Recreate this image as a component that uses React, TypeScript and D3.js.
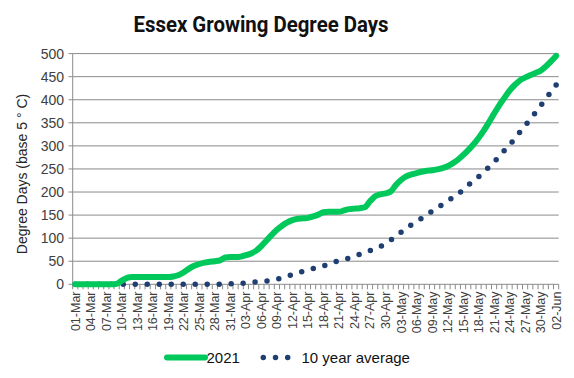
import React from "react";
import * as d3 from "d3";

const startDate = new Date(2021, 2, 1);
const dayCount = 94;
const months = ["Jan","Feb","Mar","Apr","May","Jun","Jul","Aug","Sep","Oct","Nov","Dec"];
const categories: string[] = Array.from({ length: dayCount }, (_, i) => {
  const d = new Date(startDate.getFullYear(), startDate.getMonth(), startDate.getDate() + i);
  return String(d.getDate()).padStart(2, "0") + "-" + months[d.getMonth()];
});

const gdd2021: number[] = [
  0, 0, 0, 0, 0, 0, 0, 0, 1, 8,
  14, 16, 16, 16, 16, 16, 16, 16, 16, 17,
  20, 26, 34, 40, 44, 47, 49, 50, 52, 58,
  59, 59, 60, 63, 67, 73, 83, 95, 107, 118,
  127, 134, 139, 142, 143, 144, 147, 151, 156, 157,
  157, 157, 160, 163, 164, 165, 167, 180, 191, 195,
  197, 201, 215, 226, 234, 238, 241, 244, 246, 247,
  249, 252, 256, 262, 270, 280, 291, 303, 317, 333,
  351, 370, 388, 404, 420, 432, 442, 448, 453, 458,
  463, 472, 483, 495,
];

const gddAvg: number[] = [
  0, 0, 0, 0, 0, 0, 0, 0, 0, 0,
  0, 0, 0, 0, 0, 0, 0, 0, 0, 0,
  0, 0, 0, 0, 0, 0, 0, 0, 0, 0,
  1, 1, 2, 3, 4, 5, 6, 7, 9, 11,
  14, 17, 21, 24, 28, 31, 34, 37, 40, 44,
  48, 51, 54, 57, 61, 65, 70, 73, 77, 82,
  88, 96, 104, 113, 122, 129, 136, 143, 151, 158,
  165, 173, 180, 188, 195, 205, 215, 224, 233, 243,
  254, 265, 277, 290, 302, 316, 330, 344, 358, 372,
  387, 402, 417, 432,
];

const yTicks = [0, 50, 100, 150, 200, 250, 300, 350, 400, 450, 500];
const seriesNames = ["2021", "10 year average"];
const title = "Essex Growing Degree Days";
const yTitle = "Degree Days (base 5 \u00B0 C)";

const W = 574, H = 378;
const GREEN = "#00c85a";
const NAVY = "#1f3e72";
const GRID = "#8a8a8a";
const FONT = "'Liberation Sans', Arial, sans-serif";

export default function App() {
  const x = d3.scaleBand<number>().domain(d3.range(dayCount)).range([72.7, 558.7]).padding(0);
  const bw = x.bandwidth();
  const cx = (i: number) => (x(i) as number) + bw / 2;
  const y = d3.scaleLinear().domain([0, 500]).range([284.3, 53.6]);

  const line = d3.line<number>().x((_, i) => cx(i)).y((d) => y(d)).curve(d3.curveMonotoneX);

  // approximate length of the average path so the round dots land on both ends
  let len = 0;
  for (let i = 1; i < gddAvg.length; i++) {
    len += Math.hypot(cx(i) - cx(i - 1), y(gddAvg[i]) - y(gddAvg[i - 1]));
  }
  const gap = len / Math.round(len / 12);

  const labelIdx = d3.range(0, dayCount, 3);

  return (
    <svg width={W} height={H} style={{ position: "absolute", left: 0, top: 0, background: "#fff" }}>
      <text x={261} y={32} textAnchor="middle" fontFamily="Roboto, 'Liberation Sans', sans-serif" fontWeight="bold" fontSize={22} textLength={255} lengthAdjust="spacingAndGlyphs" fill="#111">{title}</text>

      {yTicks.map((t) => (
        <g key={t}>
          {t > 0 && <line x1={72.7} x2={558.7} y1={y(t)} y2={y(t)} stroke={GRID} strokeWidth={1} />}
          <line x1={68.5} x2={72.7} y1={y(t)} y2={y(t)} stroke={GRID} strokeWidth={1} />
          <text x={64} y={y(t)} dy="0.36em" textAnchor="end" fontFamily={FONT} fontSize={14} fill="#404040">{t}</text>
        </g>
      ))}
      <line x1={72.7} x2={72.7} y1={y(500)} y2={y(0)} stroke={GRID} strokeWidth={1} />
      <line x1={72.7} x2={558.7} y1={y(0)} y2={y(0)} stroke={GRID} strokeWidth={1} />
      {d3.range(dayCount + 1).map((k) => {
        const xx = 72.7 + k * bw;
        return <line key={k} x1={xx} x2={xx} y1={y(0)} y2={y(0) + 5} stroke={GRID} strokeWidth={1} />;
      })}
      {labelIdx.map((i) => (
        <text key={i} transform={`translate(${cx(i)},${291.5}) rotate(-90)`} dy="0.36em" textAnchor="end" fontFamily={FONT} fontSize={12.5} fill="#404040">{categories[i]}</text>
      ))}

      <text transform={`translate(22,174) rotate(-90)`} dy="0.36em" textAnchor="middle" fontFamily={FONT} fontSize={14} fill="#262626">{yTitle}</text>

      <path d={line(gddAvg) || ""} fill="none" stroke={NAVY} strokeWidth={5.5} strokeLinecap="round" strokeDasharray={`0 ${gap}`} />
      <path d={line(gdd2021) || ""} fill="none" stroke={GREEN} strokeWidth={6} strokeLinecap="round" strokeLinejoin="round" />

      <line x1={167} x2={205} y1={357.5} y2={357.5} stroke={GREEN} strokeWidth={6} strokeLinecap="round" />
      <text x={206.5} y={357.5} dy="0.36em" fontFamily={FONT} fontSize={15} fill="#111">{seriesNames[0]}</text>
      <line x1={263.3} x2={288} y1={357.5} y2={357.5} stroke={NAVY} strokeWidth={5.5} strokeLinecap="round" strokeDasharray="0 12.2" />
      <text x={301.5} y={357.5} dy="0.36em" fontFamily={FONT} fontSize={15} fill="#111">{seriesNames[1]}</text>
    </svg>
  );
}
